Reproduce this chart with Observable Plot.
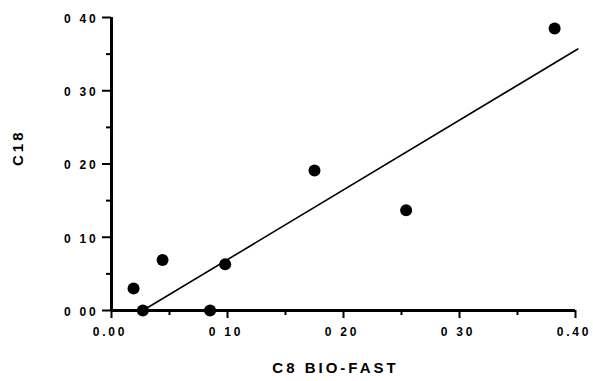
<!DOCTYPE html>
<html>
<head>
<meta charset="utf-8">
<script src="https://cdn.jsdelivr.net/npm/d3@7"></script>
<script src="https://cdn.jsdelivr.net/npm/@observablehq/plot@0.6"></script>
<style>
  body { margin: 0; background: #fff; }
  svg { font-family: "Liberation Sans", Arial, sans-serif; }
</style>
</head>
<body>
<div id="chart"></div>
<script>
// Data
const c8 = [0.019, 0.027, 0.044, 0.085, 0.098, 0.175, 0.254, 0.382];
const c18 = [0.030, 0.000, 0.069, 0.000, 0.063, 0.191, 0.137, 0.385];
// Fitted line end points
const fitX = [0.027, 0.402];
const fitY = [0.000, 0.357];
// Ticks
const majorTicks = [0, 0.1, 0.2, 0.3, 0.4];
const minorTicks = [0.05, 0.15, 0.25, 0.35];
const xTickLabels = ["0.00", "0 10", "0 20", "0 30", "0.40"];
const yTickLabels = ["0 00", "0 10", "0 20", "0 30", "0 40"];
const xTitle = "C8 BIO-FAST";
const yTitle = "C18";

const points = c8.map((x, i) => ({x, y: c18[i]}));
const fit = fitX.map((x, i) => ({x, y: fitY[i]}));

const chart = Plot.plot({
  width: 593,
  height: 381,
  marginLeft: 111,
  marginRight: 18,
  marginTop: 17,
  marginBottom: 71,
  x: {domain: [0, 0.4]},
  y: {domain: [0, 0.4]},
  style: {fontSize: "12px", fontWeight: "bold", color: "#000", background: "#fff"},
  marks: [
    Plot.axisX(majorTicks, {tickSize: 8, strokeWidth: 2, stroke: "#000", tickFormat: () => "", label: null}),
    Plot.axisX(minorTicks, {tickSize: 5, strokeWidth: 2, stroke: "#000", tickFormat: () => "", label: null}),
    Plot.axisY(majorTicks, {tickSize: 9, strokeWidth: 2, stroke: "#000", tickFormat: () => "", label: null}),
    Plot.axisY(minorTicks, {tickSize: 5, strokeWidth: 2, stroke: "#000", tickFormat: () => "", label: null}),
    Plot.text(majorTicks, {x: d => d, text: (d, i) => xTickLabels[i], frameAnchor: "bottom",
      lineAnchor: "top", dy: 16.5, dx: -1.5, fontSize: 12, fontWeight: "bold", fill: "#000", className: "ticklab"}),
    Plot.text(majorTicks, {y: d => d, text: (d, i) => yTickLabels[i], frameAnchor: "left",
      textAnchor: "end", dx: -13, dy: 1.5, fontSize: 12, fontWeight: "bold", fill: "#000", className: "ticklab"}),
    Plot.ruleX([0], {strokeWidth: 3, stroke: "#000"}),
    Plot.ruleY([0], {strokeWidth: 3, stroke: "#000"}),
    Plot.line(fit, {x: "x", y: "y", stroke: "#000", strokeWidth: 1.6}),
    Plot.dot(points, {x: "x", y: "y", r: 6, fill: "#000", stroke: "none"}),
    Plot.text([xTitle], {frameAnchor: "bottom", dx: -8, dy: 62, fontSize: 15,
      fontWeight: "bold", fill: "#000"}),
    Plot.text([yTitle], {frameAnchor: "left", dx: -93, dy: 2, rotate: -90, fontSize: 15,
      fontWeight: "bold", fill: "#000"})
  ]
});
d3.select(chart).selectAll("text").style("letter-spacing", "3px");
d3.select(chart).selectAll("g.ticklab text").style("letter-spacing", "2.8px");
document.getElementById("chart").appendChild(chart);
</script>
</body>
</html>
